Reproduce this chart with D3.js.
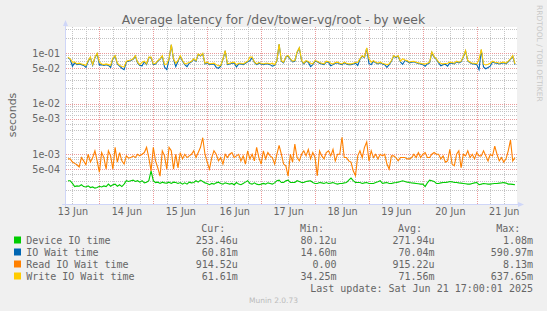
<!DOCTYPE html>
<html>
<head>
<meta charset="utf-8">
<script src="https://cdn.jsdelivr.net/npm/d3@7"></script>
<style>
  body { margin: 0; background: #f0f0f0; }
  svg { display: block; font-family: "DejaVu Sans", sans-serif; }
</style>
</head>
<body>
<div id="chart"></div>
<script>
// hourly samples, first one at Jun 13 10:00, last at Jun 21 17:00
var firstSample = Date.UTC(2025, 5, 13, 10, 0);

// Device IO time, in microseconds
var deviceIO = [300,300,265,230,237,233,250,230,226,237,
  220,226,214,220,233,226,237,230,257,233,
  250,257,233,250,230,257,300,290,300,308,
  290,300,281,300,272,281,300,471,300,276,
  281,265,281,272,269,281,265,281,276,265,
  276,257,272,257,281,272,276,300,281,308,
  290,272,265,250,265,257,272,281,265,257,
  272,265,257,265,250,276,257,250,265,281,
  300,265,257,272,257,250,257,265,257,272,
  265,257,272,300,308,276,276,300,308,276,
  276,276,300,290,276,276,290,295,300,276,
  265,265,276,272,265,276,265,269,276,265,
  257,265,265,272,276,308,338,300,276,276,
  276,265,272,276,265,265,265,276,285,300,
  265,272,276,265,265,272,276,281,290,300,
  290,281,276,272,269,265,261,257,257,230,
  272,308,300,290,265,265,272,276,276,281,
  290,285,276,276,272,269,265,261,257,257,
  265,272,276,250,257,265,261,257,257,261,
  265,265,269,272,276,269,257,257,254,250];

// IO Wait time, in milliseconds
var ioWait = [81,75,55,64,59,61,59,57,52,69,
  81,57,81,97,58,59,57,59,57,52,
  78,87,61,55,50,47,67,69,71,75,
  87,64,57,56,67,59,81,81,59,61,
  69,75,87,53,47,75,145,75,54,69,
  87,69,59,54,63,67,75,69,94,87,
  97,61,64,59,60,61,52,50,55,75,
  110,59,61,63,64,53,61,61,59,63,
  67,70,81,65,59,63,61,59,61,61,
  59,55,57,69,148,69,64,83,88,75,
  67,69,103,126,70,61,69,66,54,59,
  69,67,63,61,59,67,65,56,59,63,
  64,61,59,64,61,59,59,61,63,57,
  75,87,81,125,62,59,69,64,61,64,
  61,59,52,59,69,87,81,87,67,60,
  71,69,64,66,67,64,62,61,59,55,
  61,64,103,83,75,64,56,59,60,55,
  64,63,61,67,64,67,83,110,69,64,
  61,61,59,47,116,53,49,52,55,67,
  64,63,61,63,64,61,67,75,87,59];

// Read IO Wait time, in microseconds
var readWait = [810,810,700,660,620,560,860,740,620,1000,
  700,860,1170,740,440,1080,860,510,1170,930,
  510,1370,700,1080,740,640,930,840,860,930,
  860,1000,930,1000,1080,1370,860,470,1370,740,
  540,370,1170,930,510,1370,1170,510,1000,540,
  1080,810,1000,860,930,1000,1170,860,1080,1370,
  2120,1000,700,510,860,1170,1000,740,860,640,
  1000,860,1000,1080,860,930,1000,740,930,640,
  1170,810,1000,740,1370,860,640,1170,810,1080,
  930,860,640,1000,1500,1000,640,590,370,1000,
  700,1590,860,740,1000,1170,930,1250,810,1080,
  860,375,1170,930,810,1080,1170,930,1250,740,
  1000,1000,2170,860,860,740,700,470,375,930,
  1170,860,1370,1750,740,1170,860,1000,810,1000,
  930,1000,640,510,930,930,860,740,860,860,
  860,810,810,860,1000,860,1080,860,1000,1080,
  860,860,1000,1080,1000,1000,810,930,700,740,
  1250,640,590,1000,1170,540,1000,930,1170,860,
  1000,810,1080,930,930,1170,930,740,1000,930,
  1450,1000,740,860,700,810,1170,1900,740,860];

// Write IO Wait time, in milliseconds
var writeWait = [83,77,66,66,61,63,61,59,57,71,
  83,59,83,99,66,61,59,61,59,57,
  80,89,63,57,54,53,69,71,73,77,
  89,66,59,66,69,61,83,83,61,63,
  71,77,89,59,61,77,147,77,63,71,
  89,71,61,63,65,69,77,71,96,89,
  99,63,66,61,62,63,59,56,57,77,
  112,61,63,65,66,59,63,63,61,65,
  69,83,83,67,61,65,63,61,63,63,
  61,63,59,71,150,71,66,85,90,77,
  69,71,105,128,72,63,71,68,63,61,
  71,69,65,63,61,69,67,63,61,65,
  66,63,61,66,63,61,61,63,65,66,
  77,89,83,127,77,66,71,66,63,66,
  63,61,59,61,71,89,83,89,69,77,
  73,71,66,68,69,66,64,63,61,61,
  63,66,105,85,77,66,63,61,62,63,
  66,65,63,69,66,69,85,112,71,66,
  63,63,61,75,118,61,58,60,63,69,
  66,65,63,65,66,63,69,77,89,61];

var seriesNames = ["Device IO time", "IO Wait time", "Read IO Wait time", "Write IO Wait time"];
var seriesColors = ["#00cc00", "#0066b3", "#ff8000", "#ffcc00"];
var curVals = ["253.46u", "60.81m", "914.52u", "61.61m"];
var minVals = ["80.12u", "14.60m", "0.00", "34.25m"];
var avgVals = ["271.94u", "70.04m", "915.22u", "71.56m"];
var maxVals = ["1.08m", "590.97m", "8.13m", "637.65m"];

var dayLabels = ["13 Jun", "14 Jun", "15 Jun", "16 Jun", "17 Jun", "18 Jun", "19 Jun", "20 Jun", "21 Jun"];
var yTickValues = [5e-4, 1e-3, 5e-3, 1e-2, 5e-2, 1e-1];
var yTickLabels = ["5e-04", "1e-03", "5e-03", "1e-02", "5e-02", "1e-01"];

var width = 547, height = 311,
    plot = {left: 66, right: 517, top: 27, bottom: 204},
    fontColor = "#666666",
    axisColor = "#cfd6f8";

var svg = d3.select("#chart").append("svg")
  .attr("width", width)
  .attr("height", height);

svg.append("rect")
  .attr("width", width).attr("height", height)
  .attr("fill", "#f0f0f0");

var x = d3.scaleUtc()
  .domain([new Date(Date.UTC(2025, 5, 13, 9, 8)), new Date(Date.UTC(2025, 5, 21, 17, 54))])
  .range([plot.left, plot.right]);

var y = d3.scaleLog()
  .domain([1.04e-4, 0.327])
  .range([plot.bottom, plot.top]);

var times = writeWait.map(function(d, i) { return new Date(firstSample + i * 3600000); });

var series = [
  {values: deviceIO.map(function(v) { return v * 1e-6; })},
  {values: ioWait.map(function(v) { return v * 1e-3; })},
  {values: readWait.map(function(v) { return v * 1e-6; })},
  {values: writeWait.map(function(v) { return v * 1e-3; })}
];
series.forEach(function(s, i) { s.name = seriesNames[i]; s.color = seriesColors[i]; });

// canvas
svg.append("rect")
  .attr("x", plot.left).attr("y", plot.top)
  .attr("width", plot.right - plot.left)
  .attr("height", plot.bottom - plot.top)
  .attr("fill", "#ffffff");

// grid
var grid = svg.append("g").attr("shape-rendering", "crispEdges");

var sixHours = d3.utcHour.every(6).range(x.domain()[0], x.domain()[1]);
sixHours.forEach(function(t) {
  var major = t.getUTCHours() === 0,
      px = Math.round(x(t)) + 0.5;
  grid.append("line")
    .attr("x1", px).attr("x2", px)
    .attr("y1", plot.top).attr("y2", plot.bottom)
    .attr("stroke", major ? "#eb9a9a" : "#c4c4c4")
    .attr("stroke-dasharray", "1,1");
});

for (var e = -4; e <= 0; e++) {
  for (var m = 1; m <= 9; m++) {
    var v = m * Math.pow(10, e);
    if (v < y.domain()[0] || v > y.domain()[1]) continue;
    var py = Math.round(y(v)) + 0.5;
    grid.append("line")
      .attr("x1", plot.left).attr("x2", plot.right)
      .attr("y1", py).attr("y2", py)
      .attr("stroke", (m === 1 || m === 5) ? "#eb9a9a" : "#c4c4c4")
      .attr("stroke-dasharray", "1,1");
  }
}

// data lines
svg.append("clipPath").attr("id", "plotclip")
  .append("rect")
  .attr("x", plot.left).attr("y", plot.top)
  .attr("width", plot.right - plot.left)
  .attr("height", plot.bottom - plot.top);

var line = d3.line()
  .defined(function(d) { return d > 0; })
  .x(function(d, i) { return x(times[i]); })
  .y(function(d) { return y(d); });

svg.append("g")
  .attr("clip-path", "url(#plotclip)")
  .selectAll("path")
  .data(series)
  .enter().append("path")
  .attr("d", function(s) { return line(s.values); })
  .attr("fill", "none")
  .attr("stroke", function(s) { return s.color; })
  .attr("stroke-width", 1.1);

// axes lines with arrows
var axes = svg.append("g");
axes.append("line")
  .attr("x1", plot.left - 4).attr("x2", plot.right + 3)
  .attr("y1", plot.bottom + 0.5).attr("y2", plot.bottom + 0.5)
  .attr("stroke", axisColor);
axes.append("line")
  .attr("x1", plot.left - 0.5).attr("x2", plot.left - 0.5)
  .attr("y1", plot.bottom + 4).attr("y2", plot.top - 3)
  .attr("stroke", axisColor);
axes.append("path")
  .attr("d", "M" + (plot.right + 1) + "," + (plot.bottom - 2) + "L" + (plot.right + 7) + "," + (plot.bottom + 0.5) +
             "L" + (plot.right + 1) + "," + (plot.bottom + 3) + "Z")
  .attr("fill", axisColor);
axes.append("path")
  .attr("d", "M" + (plot.left - 3) + "," + (plot.top - 1) + "L" + (plot.left - 0.5) + "," + (plot.top - 7) +
             "L" + (plot.left + 2) + "," + (plot.top - 1) + "Z")
  .attr("fill", axisColor);

// tick labels
var noons = dayLabels.map(function(d, i) { return new Date(Date.UTC(2025, 5, 13 + i, 12)); });

var xAxis = svg.append("g")
  .attr("transform", "translate(0," + plot.bottom + ")")
  .call(d3.axisBottom(x).tickValues(noons)
    .tickFormat(function(d, i) { return dayLabels[i]; })
    .tickSize(0).tickPadding(4));

var yAxis = svg.append("g")
  .attr("transform", "translate(" + plot.left + ",0)")
  .call(d3.axisLeft(y).tickValues(yTickValues)
    .tickFormat(function(d, i) { return yTickLabels[i]; })
    .tickSize(0).tickPadding(6));

[xAxis, yAxis].forEach(function(a) {
  a.select(".domain").remove();
  a.attr("font-family", "DejaVu Sans").attr("font-size", 9.6);
  a.selectAll("text").attr("fill", fontColor);
});

// titles
svg.append("text")
  .attr("x", width / 2).attr("y", 24)
  .attr("text-anchor", "middle")
  .attr("font-size", 12.4)
  .attr("fill", fontColor)
  .text("Average latency for /dev/tower-vg/root - by week");

svg.append("text")
  .attr("transform", "translate(11.7,115) rotate(-90)")
  .attr("text-anchor", "middle")
  .attr("dy", "0.35em")
  .attr("font-size", 10.9)
  .attr("fill", fontColor)
  .text("seconds");

svg.append("text")
  .attr("transform", "translate(536.5,5) rotate(90)")
  .attr("font-size", 7.5)
  .attr("fill", "#c8c8c8")
  .text("RRDTOOL / TOBI OETIKER");

// legend
var legend = svg.append("g")
  .attr("font-family", "DejaVu Sans Mono, monospace")
  .attr("font-size", 10)
  .attr("fill", fontColor);

var colsRight = [237.9, 336.6, 434.6, 533],
    headers = ["Cur:", "Min:", "Avg:", "Max:"],
    columns = [curVals, minVals, avgVals, maxVals],
    headerY = 228,
    rowY = function(i) { return 240 + i * 12; };

headers.forEach(function(h, c) {
  legend.append("text")
    .attr("x", colsRight[c] - 12.6).attr("y", headerY)
    .attr("dy", "0.35em")
    .attr("text-anchor", "end")
    .text(h);
});

series.forEach(function(s, i) {
  legend.append("rect")
    .attr("x", 14).attr("y", rowY(i) - 3.5)
    .attr("width", 7).attr("height", 7)
    .attr("fill", s.color);
  legend.append("text")
    .attr("x", 26.2).attr("y", rowY(i))
    .attr("dy", "0.35em")
    .text(s.name);
  columns.forEach(function(col, c) {
    legend.append("text")
      .attr("x", colsRight[c]).attr("y", rowY(i))
      .attr("dy", "0.35em")
      .attr("text-anchor", "end")
      .text(col[i]);
  });
});

legend.append("text")
  .attr("x", 533).attr("y", 288)
  .attr("dy", "0.35em")
  .attr("text-anchor", "end")
  .text("Last update: Sat Jun 21 17:00:01 2025");

svg.append("text")
  .attr("x", width / 2).attr("y", 300)
  .attr("dy", "0.35em")
  .attr("text-anchor", "middle")
  .attr("font-size", 7.5)
  .attr("fill", "#bbbbbb")
  .text("Munin 2.0.73");
</script>
</body>
</html>
